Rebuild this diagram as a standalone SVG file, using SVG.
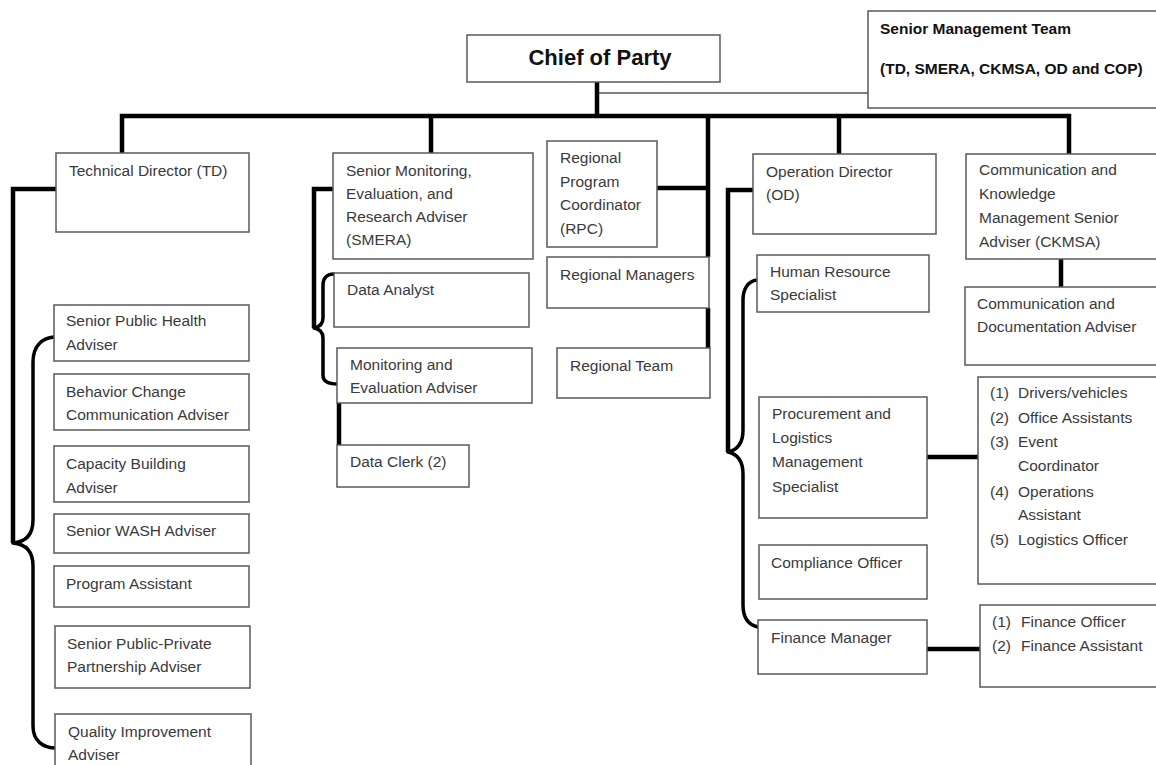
<svg xmlns="http://www.w3.org/2000/svg" width="1156" height="765" viewBox="0 0 1156 765">
<style>
.box{fill:#fff;stroke:#5a5a5a;stroke-width:1.5}
.t{font-family:"Liberation Sans",Arial,sans-serif;font-size:15.5px;fill:#3a3a3a}
.b{font-weight:bold;fill:#111}
.big{font-size:22px}
.c{fill:none;stroke:#000;stroke-width:4.5;stroke-linecap:butt}
.br{fill:none;stroke:#000;stroke-width:3.5;stroke-linecap:round;stroke-linejoin:round}
.thin{fill:none;stroke:#555;stroke-width:1.5}
</style>
<rect width="1156" height="765" fill="#fff"/>
<g id="connectors">
<line class="thin" x1="597" y1="93" x2="868" y2="93"/>
<line class="c" x1="597" y1="82" x2="597" y2="116"/>
<polyline class="c" points="122,153 122,116 1069,116 1069,154"/>
<line class="c" x1="431" y1="116" x2="431" y2="153"/>
<line class="c" x1="839" y1="116" x2="839" y2="154"/>
<line class="c" x1="708" y1="116" x2="708" y2="257"/>
<line class="c" x1="708" y1="308" x2="708" y2="348"/>
<line class="c" x1="657" y1="188" x2="708" y2="188"/>
<polyline class="c" points="56,189 13,189 13,543"/>
<path class="br" d="M54 337 C42 338 33 346 33 362 L33 520 C33 535 25 542 13 543 C25 544 33 551 33 566 L33 726 C33 741 43 748 56 748"/>
<polyline class="c" points="333,189 314,189 314,328"/>
<path class="br" d="M334 274 C327 274 323 278 323 285 L323 318 C323 324 319 327 314 328 C319 329 323 332 323 338 L323 375 C323 381 328 384 337 384"/>
<line class="c" x1="339" y1="403" x2="339" y2="445"/>
<polyline class="c" points="753,190 728,190 728,452"/>
<path class="br" d="M757 280 C748 281 743 289 743 300 L743 430 C743 443 737 450 728 452 C737 454 743 461 743 474 L743 605 C743 618 749 625 758 627"/>
<line class="c" x1="1061" y1="259" x2="1061" y2="287"/>
<line class="c" x1="927" y1="457" x2="978" y2="457"/>
<line class="c" x1="927" y1="649" x2="980" y2="649"/>
</g>
<g id="cop"><rect class="box" x="467" y="35" width="253" height="47"/><text class="t b big" x="600" y="65" text-anchor="middle">Chief of Party</text></g>
<g id="smt"><rect class="box" x="868" y="11" width="300" height="97"/><text class="t b" x="880" y="34">Senior Management Team</text><text class="t b" x="880" y="74">(TD, SMERA, CKMSA, OD and COP)</text></g>
<g id="td"><rect class="box" x="56" y="153" width="193" height="79"/><text class="t" x="69" y="176">Technical Director (TD)</text></g>
<g id="smera"><rect class="box" x="333" y="153" width="200" height="106"/><text class="t" x="346" y="176">Senior Monitoring,</text><text class="t" x="346" y="199">Evaluation, and</text><text class="t" x="346" y="222">Research Adviser</text><text class="t" x="346" y="245">(SMERA)</text></g>
<g id="rpc"><rect class="box" x="547" y="141" width="110" height="106"/><text class="t" x="560" y="163">Regional</text><text class="t" x="560" y="187">Program</text><text class="t" x="560" y="210">Coordinator</text><text class="t" x="560" y="234">(RPC)</text></g>
<g id="od"><rect class="box" x="753" y="154" width="183" height="80"/><text class="t" x="766" y="177">Operation Director</text><text class="t" x="766" y="200">(OD)</text></g>
<g id="ckmsa"><rect class="box" x="966" y="154" width="200" height="105"/><text class="t" x="979" y="175">Communication and</text><text class="t" x="979" y="199">Knowledge</text><text class="t" x="979" y="223">Management Senior</text><text class="t" x="979" y="247">Adviser (CKMSA)</text></g>
<g id="data-analyst"><rect class="box" x="334" y="273" width="195" height="54"/><text class="t" x="347" y="295">Data Analyst</text></g>
<g id="me-adviser"><rect class="box" x="337" y="348" width="195" height="55"/><text class="t" x="350" y="370">Monitoring and</text><text class="t" x="350" y="393">Evaluation Adviser</text></g>
<g id="data-clerk"><rect class="box" x="337" y="445" width="132" height="42"/><text class="t" x="350" y="467">Data Clerk (2)</text></g>
<g id="regional-managers"><rect class="box" x="547" y="257" width="162" height="51"/><text class="t" x="560" y="280">Regional Managers</text></g>
<g id="regional-team"><rect class="box" x="557" y="348" width="153" height="50"/><text class="t" x="570" y="371">Regional Team</text></g>
<g id="hr"><rect class="box" x="757" y="255" width="172" height="57"/><text class="t" x="770" y="277">Human Resource</text><text class="t" x="770" y="300">Specialist</text></g>
<g id="comm-doc"><rect class="box" x="965" y="287" width="200" height="78"/><text class="t" x="977" y="309">Communication and</text><text class="t" x="977" y="332">Documentation Adviser</text></g>
<g id="procurement"><rect class="box" x="759" y="397" width="168" height="121"/><text class="t" x="772" y="419">Procurement and</text><text class="t" x="772" y="443">Logistics</text><text class="t" x="772" y="467">Management</text><text class="t" x="772" y="492">Specialist</text></g>
<g id="ops-staff"><rect class="box" x="978" y="377" width="190" height="207"/>
<text class="t" x="990" y="398">(1)</text><text class="t" x="1018" y="398">Drivers/vehicles</text>
<text class="t" x="990" y="423">(2)</text><text class="t" x="1018" y="423">Office Assistants</text>
<text class="t" x="990" y="447">(3)</text><text class="t" x="1018" y="447">Event</text>
<text class="t" x="1018" y="471">Coordinator</text>
<text class="t" x="990" y="497">(4)</text><text class="t" x="1018" y="497">Operations</text>
<text class="t" x="1018" y="520">Assistant</text>
<text class="t" x="990" y="545">(5)</text><text class="t" x="1018" y="545">Logistics Officer</text></g>
<g id="compliance"><rect class="box" x="759" y="545" width="168" height="54"/><text class="t" x="771" y="568">Compliance Officer</text></g>
<g id="finance-manager"><rect class="box" x="758" y="620" width="169" height="54"/><text class="t" x="771" y="643">Finance Manager</text></g>
<g id="finance-staff"><rect class="box" x="980" y="605" width="190" height="82"/>
<text class="t" x="992" y="627">(1)</text><text class="t" x="1021" y="627">Finance Officer</text>
<text class="t" x="992" y="651">(2)</text><text class="t" x="1021" y="651">Finance Assistant</text></g>
<g id="sph"><rect class="box" x="54" y="305" width="195" height="56"/><text class="t" x="66" y="326">Senior Public Health</text><text class="t" x="66" y="350">Adviser</text></g>
<g id="bcc"><rect class="box" x="54" y="374" width="195" height="56"/><text class="t" x="66" y="397">Behavior Change</text><text class="t" x="66" y="420">Communication Adviser</text></g>
<g id="cba"><rect class="box" x="54" y="446" width="195" height="56"/><text class="t" x="66" y="469">Capacity Building</text><text class="t" x="66" y="493">Adviser</text></g>
<g id="wash"><rect class="box" x="54" y="514" width="195" height="39"/><text class="t" x="66" y="536">Senior WASH Adviser</text></g>
<g id="pa"><rect class="box" x="54" y="566" width="195" height="41"/><text class="t" x="66" y="589">Program Assistant</text></g>
<g id="ppp"><rect class="box" x="55" y="626" width="195" height="62"/><text class="t" x="67" y="649">Senior Public-Private</text><text class="t" x="67" y="672">Partnership Adviser</text></g>
<g id="qi"><rect class="box" x="55" y="714" width="196" height="60"/><text class="t" x="68" y="737">Quality Improvement</text><text class="t" x="68" y="760">Adviser</text></g>
</svg>
